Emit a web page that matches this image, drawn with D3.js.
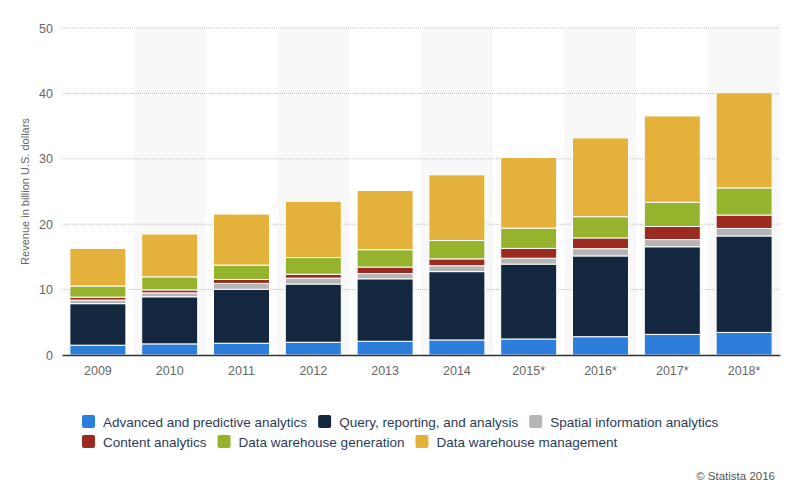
<!DOCTYPE html>
<html lang="en">
<head>
  <meta charset="UTF-8">
  <title>Big data analytics revenue by segment</title>
  <script src="https://d3js.org/d3.v7.min.js"></script>
  <style>
    body {
      margin: 0;
      padding: 0;
      background: #fff;
      font-family: "Liberation Sans", Arial, sans-serif;
    }
    .tick text {
      fill: #666;
    }
  </style>
</head>
<body>
  <div id="vis"></div>

  <script>
    // values (billion U.S. dollars)
    const years = ["2009", "2010", "2011", "2012", "2013", "2014", "2015*", "2016*", "2017*", "2018*"];
    const advanced   = [1.5, 1.7, 1.8, 1.95, 2.1, 2.3, 2.45, 2.8, 3.15, 3.45];
    const query      = [6.35, 7.2, 8.25, 8.9, 9.55, 10.45, 11.45, 12.35, 13.4, 14.75];
    const spatial    = [0.55, 0.6, 0.9, 0.9, 0.8, 0.9, 0.9, 1.1, 1.1, 1.15];
    const content    = [0.45, 0.45, 0.6, 0.6, 1.0, 1.05, 1.5, 1.65, 2.0, 2.05];
    const generation = [1.7, 2.0, 2.2, 2.55, 2.65, 2.8, 3.1, 3.25, 3.7, 4.15];
    const management = [5.75, 6.55, 7.8, 8.6, 9.05, 10.05, 10.8, 12.05, 13.2, 14.55];
    const yTicks = [0, 10, 20, 30, 40, 50];

    const series = [
      { key: "advanced", name: "Advanced and predictive analytics", color: "#2d7ddb", values: advanced },
      { key: "query", name: "Query, reporting, and analysis", color: "#13283f", values: query },
      { key: "spatial", name: "Spatial information analytics", color: "#b5b5b5", values: spatial },
      { key: "content", name: "Content analytics", color: "#9b2b20", values: content },
      { key: "generation", name: "Data warehouse generation", color: "#95b32d", values: generation },
      { key: "management", name: "Data warehouse management", color: "#e4b23a", values: management }
    ];

    const width = 800, height = 485;
    const margin = { top: 28, right: 20, bottom: 130, left: 62 };

    const svg = d3.select("#vis").append("svg")
      .attr("width", width)
      .attr("height", height);

    const table = years.map((y, i) => {
      const row = { year: y };
      series.forEach(s => row[s.key] = s.values[i]);
      return row;
    });

    const stacked = d3.stack().keys(series.map(s => s.key))(table);

    const x = d3.scaleBand()
      .domain(years)
      .range([margin.left, width - margin.right])
      .paddingInner(0.22)
      .paddingOuter(0.11);

    const y = d3.scaleLinear()
      .domain([0, 50])
      .range([height - margin.bottom, margin.top]);

    // alternating column shading
    const step = x.step();
    svg.append("g").selectAll("rect")
      .data(years.filter((d, i) => i % 2 === 1))
      .enter().append("rect")
      .attr("x", d => x(d) - step * x.paddingInner() / 2)
      .attr("y", y(50))
      .attr("width", step)
      .attr("height", y(0) - y(50))
      .attr("fill", "#f8f8f8");

    // gridlines
    svg.append("g").selectAll("line")
      .data(yTicks.filter(t => t > 0))
      .enter().append("line")
      .attr("x1", margin.left)
      .attr("x2", width - margin.right)
      .attr("y1", d => y(d))
      .attr("y2", d => y(d))
      .attr("stroke", "#c0c0c0")
      .attr("stroke-width", 1)
      .attr("stroke-dasharray", "1,1");

    // bars
    const layers = svg.append("g").selectAll("g")
      .data(stacked)
      .enter().append("g")
      .attr("fill", (d, i) => series[i].color);

    layers.selectAll("rect")
      .data(d => d)
      .enter().append("rect")
      .attr("x", d => x(d.data.year))
      .attr("y", d => y(d[1]))
      .attr("width", x.bandwidth())
      .attr("height", d => y(d[0]) - y(d[1]))
      .attr("stroke", "#fff")
      .attr("stroke-width", 1);

    // x axis
    const xAxis = svg.append("g")
      .attr("transform", `translate(0,${y(0)})`)
      .call(d3.axisBottom(x).tickSize(0).tickPadding(11));
    xAxis.select(".domain").attr("stroke", "#333").attr("stroke-width", 1.5);
    xAxis.selectAll("text").style("font-size", "12.5px");

    // y axis
    const yAxis = svg.append("g")
      .attr("transform", `translate(${margin.left - 9},0)`)
      .call(d3.axisLeft(y).tickValues(yTicks).tickSize(0).tickPadding(0));
    yAxis.select(".domain").remove();
    yAxis.selectAll("text").style("font-size", "12.5px");

    svg.append("text")
      .attr("transform", `translate(29,${(y(0) + y(50)) / 2}) rotate(-90)`)
      .attr("text-anchor", "middle")
      .attr("fill", "#666")
      .style("font-size", "11px")
      .text("Revenue in billion U.S. dollars");

    // legend
    const legendRows = [[0, 1, 2], [3, 4, 5]];
    const legend = svg.append("g");
    legendRows.forEach((row, r) => {
      let lx = 82;
      const ly = 422 + r * 20;
      row.forEach(idx => {
        const s = series[idx];
        legend.append("rect")
          .attr("x", lx)
          .attr("y", ly - 7)
          .attr("width", 13)
          .attr("height", 13)
          .attr("rx", 2)
          .attr("fill", s.color);
        const t = legend.append("text")
          .attr("x", lx + 21)
          .attr("y", ly + 4.5)
          .attr("fill", "#2c3b58")
          .style("font-size", "13.5px")
          .text(s.name);
        lx += 21 + t.node().getComputedTextLength() + 11;
      });
    });

    svg.append("text")
      .attr("x", 775)
      .attr("y", 480)
      .attr("text-anchor", "end")
      .attr("fill", "#555")
      .style("font-size", "11.5px")
      .text("\u00a9 Statista 2016");
  </script>
</body>
</html>
